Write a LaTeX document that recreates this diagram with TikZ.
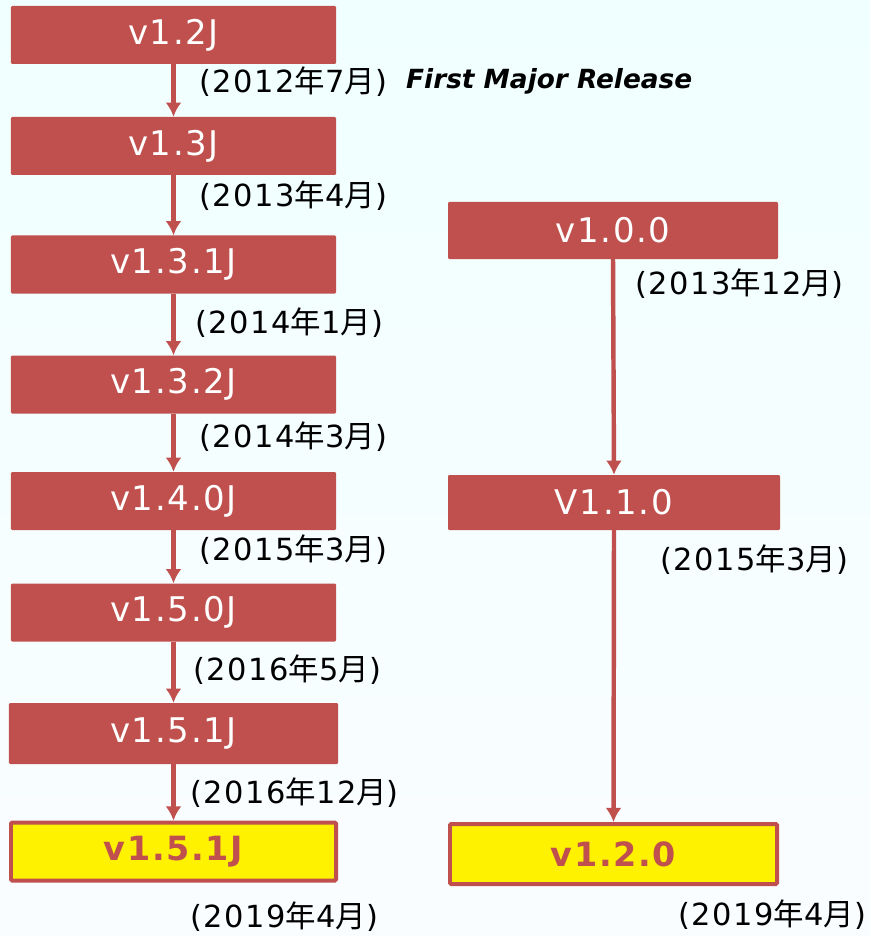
\documentclass[tikz,border=0pt]{standalone}
\usepackage{fontspec}
\setmainfont{DejaVu Sans}
\newfontfamily\cjk{Noto Sans CJK JP}
\newfontfamily\boxfont[LetterSpace=5]{DejaVu Sans}
\newfontfamily\datefont[LetterSpace=5]{DejaVu Sans}
\usetikzlibrary{positioning,arrows.meta}
\definecolor{boxred}{RGB}{192,80,77}
\definecolor{bgcyan}{RGB}{240,255,255}
\definecolor{bgwhite}{RGB}{250,253,255}
\newcommand\relmonth[2]{(#1{\cjk 年}#2{\cjk 月})}
\tikzset{
verbox/.style={
  rectangle,
  fill=boxred,
  text=white,
  rounded corners=1pt,
  minimum width=9.75cm,
  minimum height=1.74cm,
  inner sep=0pt,
  font=\boxfont\fontsize{29}{33}\selectfont
  },
newbox/.style={
  verbox,
  fill=yellow,
  draw=boxred,
  line width=3.4pt,
  text=boxred,
  font=\boxfont\fontsize{28.5}{32}\selectfont\bfseries
  },
datelbl/.style={
  anchor=west,
  inner sep=0pt,
  font=\datefont\fontsize{26}{30}\selectfont
  },
link/.style={
  draw=boxred,
  line width=3.8pt,
  ->
  }
}
\begin{document}
\begin{tikzpicture}[x=0.03cm,y=-0.03cm,>={Latex[length=12pt,width=13.5pt]}]
\shade[top color=bgcyan,bottom color=bgwhite] (0,0) rectangle (870,936);
\useasboundingbox (0,0) rectangle (870,936);

% left column
\node[verbox] (v12j)  at (173.5,35)  {v1.2J};
\node[verbox] (v13j)  at (173.5,146) {v1.3J};
\node[verbox] (v131j) at (173.5,264.5) {v1.3.1J};
\node[verbox] (v132j) at (173.5,384.5) {v1.3.2J};
\node[verbox] (v140j) at (173.5,501) {v1.4.0J};
\node[verbox] (v150j) at (173.5,612.5) {v1.5.0J};
\node[verbox,minimum width=9.87cm,minimum height=1.83cm] (v151j) at (173.5,733.5) {v1.5.1J};
\node[newbox] (new151j) at (173.5,851.5) {v1.5.1J};

\draw[link] (v12j.south)  -- (v13j.north);
\draw[link] (v13j.south)  -- (v131j.north);
\draw[link] (v131j.south) -- (v132j.north);
\draw[link] (v132j.south) -- (v140j.north);
\draw[link] (v140j.south) -- (v150j.north);
\draw[link] (v150j.south) -- (v151j.north);
\draw[link] (v151j.south) -- (new151j.north);

\node[datelbl] (d1) at (199,82)  {\relmonth{2012}{7}};
\node[datelbl] (d2) at (199,196) {\relmonth{2013}{4}};
\node[datelbl] (d3) at (195,323) {\relmonth{2014}{1}};
\node[datelbl] (d4) at (199,437) {\relmonth{2014}{3}};
\node[datelbl] (d5) at (199,550) {\relmonth{2015}{3}};
\node[datelbl] (d6) at (193,670) {\relmonth{2016}{5}};
\node[datelbl] (d7) at (190,793) {\relmonth{2016}{12}};
\node[datelbl] (d8) at (190,917) {\relmonth{2019}{4}};

\node[anchor=west,inner sep=0pt,font=\fontsize{22.5}{26}\selectfont\bfseries\itshape]
  (first) at (406,81) {First Major Release};

% right column
\node[verbox,minimum width=9.9cm,minimum height=1.71cm] (v100) at (613,230.5) {v1.0.0};
\node[verbox,minimum width=9.96cm,minimum height=1.65cm] (v110) at (614,502.5) {V1.1.0};
\node[newbox,minimum width=9.81cm,minimum height=1.8cm] (new120) at (613.5,854) {v1.2.0};

\draw[link] (v100.south) -- (v110.north);
\draw[link] (v110.south) -- (new120.north);

\node[datelbl] (d9)  at (635,284) {\relmonth{2013}{12}};
\node[datelbl] (d10) at (660,560) {\relmonth{2015}{3}};
\node[datelbl] (d11) at (678,915) {\relmonth{2019}{4}};
\end{tikzpicture}
\end{document}
